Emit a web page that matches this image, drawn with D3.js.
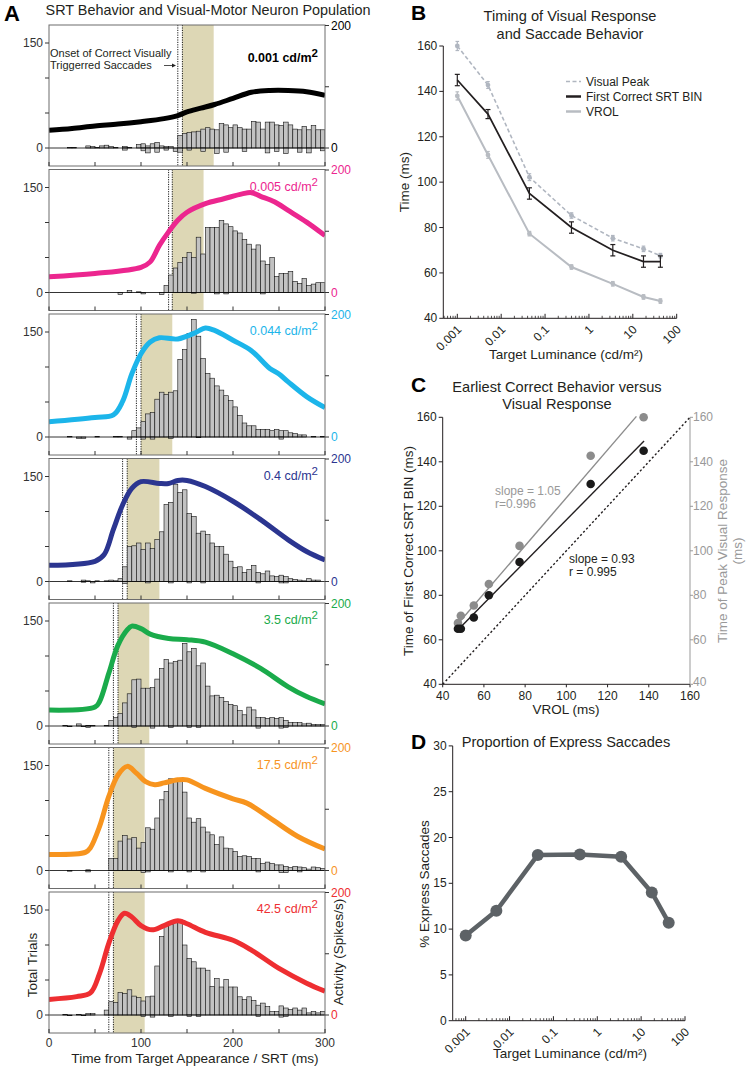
<!DOCTYPE html>
<html><head><meta charset="utf-8">
<script src="https://cdn.jsdelivr.net/npm/d3@7"></script>
<style>body{margin:0;background:#fff} svg{font-family:"Liberation Sans",Arial,Helvetica,sans-serif;background:#fff}</style>
</head><body><svg id="c" width="747" height="1069"></svg>
<script>
// ---------------- DATA ----------------
// Panel A
const lumLabels = ["0.001","0.005","0.044","0.4","3.5","17.5","42.5"];
const panelColors = ["#000000","#ec268f","#1cb5ea","#2b3590","#1aab4b","#f7941e","#ee2e31"];
const onsetStart = [140,130,95,80,70,65,65];
const onsetEnd   = [145,134,100,85,75,70,70];
const shadeEnd   = [179,168,134,120,109,104,104];
const binWidth = 5;

const corr1 = [0,0,0,0,1,1,0,0,3,2, 1,3,4,2,1,0,2,1,0,5, 6,3,6,8,3,2,2,0,18,21, 22,23,24,27,29,27,26,35,33,29, 33,29,27,27,38,37,27,37,37,33, 32,37,33,27,26,31,26,32,26,26];
const err1  = [0,0,0,0,0,0,0,0,0,0, 0,0,0,0,0,0,-3,0,0,0, -4,-7,0,-6,0,-3,0,-5,-6,0, -3,0,0,-5,0,0,-8,0,-6,0, 0,0,-5,0,0,0,0,-7,0,-5, 0,-8,0,0,-6,0,-7,0,0,-4];
const corr2 = [0,0,0,0,0,0,0,0,0,0, 0,0,0,0,0,0,0,3,0,1, 0,0,0,0,0,10,25,35,43,50, 57,50,79,55,93,93,93,103,98,94, 88,85,76,69,62,68,45,40,50,23, 27,27,30,16,13,20,10,12,14,14];
const err2  = [0,0,0,0,0,0,0,0,0,0, 0,0,0,0,0,-3,0,0,0,0, -2,0,0,0,-3,0,0,0,0,0, 0,-1,0,0,0,0,-2,0,-2,0, 0,0,0,0,0,0,-2,0,0,0, 0,0,0,0,0,0,0,0,0,0];
const corr3 = [0,0,0,0,1,0,0,0,0,0, 1,0,0,0,1,1,0,0,9,13, 22,33,35,54,64,61,64,66,111,125, 148,168,144,112,91,84,73,67,59,52, 43,31,20,16,16,11,11,11,9,11, 9,9,6,5,3,3,0,1,0,1];
const err3  = [0,0,0,0,0,0,-2,-2,0,0, 0,0,0,0,0,0,0,-3,0,0, -3,0,-3,0,0,0,-2,0,0,0, 0,0,-1,0,0,0,0,0,0,0, 0,0,0,0,0,0,0,0,0,0, -3,0,0,0,0,0,0,0,0,0];
const corr4 = [0,0,0,0,1,0,0,2,1,0, 1,0,1,2,1,4,21,50,51,55, 46,55,47,60,71,110,113,139,127,131, 97,93,69,72,67,55,50,50,39,29, 20,21,13,17,23,13,11,15,8,7, 9,7,4,3,2,1,4,2,2,0];
const err4  = [0,0,0,0,0,0,0,-1,0,-2, 0,0,0,0,0,0,-3,0,0,0, 0,-2,0,0,0,0,-2,0,0,0, -2,0,0,-2,0,0,0,0,0,0, 0,0,0,0,0,-2,0,0,0,0, -2,-2,0,0,0,0,0,0,0,0];
const corr5 = [0,0,0,1,0,0,3,0,1,1, 0,0,1,8,12,18,33,46,66,67, 54,54,55,67,82,95,90,92,94,118, 106,111,86,90,57,43,44,41,35,31, 29,22,16,27,23,12,12,11,12,11, 12,8,5,5,5,3,4,2,2,2];
const err5  = [0,0,0,0,-1,0,0,-1,-2,0, 0,0,0,0,0,0,0,0,-2,0, 0,0,-3,0,0,0,-2,0,0,0, -2,0,-2,0,0,0,0,0,0,0, 0,0,0,0,0,-3,0,0,0,0, -3,-2,0,0,0,0,0,0,0,0];
const corr6 = [0,0,0,0,0,0,0,0,1,0, 0,0,0,17,17,42,50,45,47,32, 40,61,59,75,101,113,131,127,127,112, 75,69,74,62,55,51,37,48,32,31, 27,20,21,20,17,17,10,12,10,8, 8,6,4,6,5,4,2,5,4,3];
const err6  = [0,0,0,0,-1,0,0,0,-2,0, 0,0,0,0,0,0,0,0,0,0, -3,-2,0,0,0,0,-2,0,0,0, -2,0,0,-2,0,0,0,0,0,0, 0,0,0,0,0,-2,0,0,0,0, -3,-3,0,0,-2,0,0,0,0,0];
const corr7 = [0,0,0,1,0,0,1,0,2,2, 0,0,7,19,18,32,31,36,27,25, 20,26,27,70,112,129,129,133,136,100, 81,76,67,67,64,41,52,40,51,40, 40,26,22,26,21,14,17,12,5,5, 13,10,8,10,7,10,3,5,3,5];
const err7  = [0,0,0,0,-1,0,0,-1,0,0, 0,0,0,0,0,0,0,0,0,0, -2,0,-3,0,0,0,-2,0,0,0, -2,0,-2,0,0,0,0,0,0,0, 0,0,0,0,0,-2,0,0,0,0, -3,-2,0,0,0,0,0,0,0,0];
const correctCounts = [corr1,corr2,corr3,corr4,corr5,corr6,corr7];
const errorCounts = [err1,err2,err3,err4,err5,err6,err7];

const actT1 = [0,25,50,75,100,125,140,150,165,180,200,220,240,260,280,300];
const actV1 = [29,32,36,39,43,48,53,59,65,71,81,91,94,94,92,86];
const actT2 = [0,50,100,110,120,130,140,150,170,190,210,220,230,245,260,280,300];
const actV2 = [25.7,31,41,50,77,99,118,131,145,153,161,163,157,148,134,115,93];
const actT3 = [0,50,70,80,90,100,110,120,140,160,170,180,200,220,240,250,260,280,300];
const actV3 = [25,32,36,58,103,136,155,162,160,171,178,174,158,141,112,103,90,66,48];
const actT4 = [0,50,60,70,80,90,100,120,130,140,150,170,200,230,260,280,300];
const actV4 = [26.5,33,44,85,125,152,163,160,160,165,165,155,131,101,68,49,35];
const actT5 = [0,50,55,65,75,85,90,100,110,130,150,170,200,230,260,280,300];
const actV5 = [26,31,40,86,132,157,163,159,150,143,141,137,118,94,64,48,36];
const actT6 = [0,40,45,55,65,75,85,95,105,115,125,140,150,170,200,215,240,270,300];
const actV6 = [26,30,37,72,121,156,170,159,145,140,143,148,148,134,117,110,86,56,35];
const actT7 = [0,30,45,55,65,75,82,90,100,112,125,140,150,170,200,220,250,280,300];
const actV7 = [25.5,30,36,68,117,154,166,160,146,139,146,154,149,135,122,106,76,52,39];
const actTimes = [actT1,actT2,actT3,actT4,actT5,actT6,actT7];
const actVals = [actV1,actV2,actV3,actV4,actV5,actV6,actV7];
const aXTicks = [0,50,100,150,200,250,300];
const aXLabels = [0,100,200,300];
const aLeftTicks = [0,50,100,150];
const aLeftLabels = [0,150];
const aRightTicks = [0,100,200];
const aRightLabels = [0,200];

// Panel B
const luminance = [0.001,0.005,0.044,0.4,3.5,17.5,42.5];
const visPeak = [160,142.8,102.2,85.3,75.3,70.6,67.6];
const visPeakErr = [2,1.5,1.5,1.2,1.2,1.2,1];
const srtBin = [145,130,95,80,70,65,65];
const srtErr = [2.5,2,2.5,2.5,2.5,2.5,2.5];
const vrol = [138,112,77.3,62.6,55.2,49.4,47.6];
const vrolErr = [1.8,1.5,1,1,1,1,1];
const bYTicks = [40,60,80,100,120,140,160];
const logMajors = [0.001,0.01,0.1,1,10,100];
const logLabels = ["0.001","0.01","0.1","1","10","100"];

// Panel C
const cVrol = [137.5,111.8,77.3,62.4,55.1,48.8,47.4];
const cSrt = [145,130,95,80,70,65,65];
const cPeak = [160,142.7,102.2,85.1,75.4,70.8,67.5];
const fitBlackX = [49,137.7], fitBlackY = [66,149.3];
const fitGrayX = [47,134], fitGrayY = [66.8,160.4];
const cTicks = [40,60,80,100,120,140,160];

// Panel D
const pctExpress = [9.3,12.0,18.1,18.15,17.9,14.0,10.7];
const dYTicks = [0,5,10,15,20,25,30];

// ---------------- DRAW ----------------
const svg = d3.select('#c');
const txt = (x,y,s,opt={}) => {
  const t = svg.append('text').attr('x',x).attr('y',y).text(s)
    .attr('font-size',opt.size||12).attr('fill',opt.fill||'#231f20')
    .attr('text-anchor',opt.anchor||'start');
  if(opt.weight) t.attr('font-weight',opt.weight);
  if(opt.rotate!==undefined) t.attr('transform',`rotate(${opt.rotate},${x},${y})`);
  return t;
};

// ===== Panel A =====
const xA = d3.scaleLinear().domain([0,300]).range([49,325]);
const aTop0 = 25, aStep = 144.5, aH = 141;
txt(4,21,'A',{size:22,weight:'bold',fill:'#000'});
txt(208,15,'SRT Behavior and Visual-Motor Neuron Population',{size:14.4,anchor:'middle'});

lumLabels.forEach((lab,i)=>{
  const top = aTop0 + i*aStep;
  const yL = d3.scaleLinear().domain([0,150]).range([top+123, top+18]);
  const yR = d3.scaleLinear().domain([0,200]).range([top+123, top+0.5]);
  const col = panelColors[i];
  const g = svg.append('g');
  const cid = 'clipA'+i;
  svg.append('clipPath').attr('id',cid).append('rect').attr('x',xA(0)).attr('y',top).attr('width',xA(300)-xA(0)).attr('height',aH);
  const inner = g.append('g').attr('clip-path',`url(#${cid})`);
  inner.append('rect').attr('x',xA(onsetEnd[i])).attr('y',top)
    .attr('width',xA(shadeEnd[i])-xA(onsetEnd[i])).attr('height',aH).attr('fill','#ddd7b5');
  [onsetStart[i],onsetEnd[i]].forEach(t=>{
    inner.append('line').attr('x1',xA(t)).attr('x2',xA(t)).attr('y1',top).attr('y2',top+aH)
      .attr('stroke','#000').attr('stroke-width',0.9).attr('stroke-dasharray','1.2,1.2');
  });
  const bw = xA(binWidth)-xA(0);
  correctCounts[i].forEach((c,j)=>{
    const t0 = j*binWidth;
    if(c>0) inner.append('rect').attr('x',xA(t0)).attr('width',bw).attr('y',yL(c)).attr('height',yL(0)-yL(c))
      .attr('fill','#c2c2c2').attr('stroke','#111').attr('stroke-width',0.6);
    const e = errorCounts[i][j];
    if(e<0) inner.append('rect').attr('x',xA(t0)).attr('width',bw).attr('y',yL(0)).attr('height',yL(e)-yL(0))
      .attr('fill','#c2c2c2').attr('stroke','#111').attr('stroke-width',0.6);
  });
  inner.append('line').attr('x1',xA(0)).attr('x2',xA(300)).attr('y1',yL(0)).attr('y2',yL(0))
    .attr('stroke','#000').attr('stroke-width',0.8);
  const pts = actTimes[i].map((t,k)=>[t,actVals[i][k]]);
  inner.append('path').attr('d',d3.line().x(d=>xA(d[0])).y(d=>yR(d[1])).curve(d3.curveCatmullRom)(pts))
    .attr('fill','none').attr('stroke',col).attr('stroke-width',5);
  g.append('rect').attr('x',xA(0)).attr('y',top).attr('width',xA(300)-xA(0)).attr('height',aH)
    .attr('fill','none').attr('stroke','#6d6d6d').attr('stroke-width',1);
  aXTicks.forEach(t=>{
    g.append('line').attr('x1',xA(t)).attr('x2',xA(t)).attr('y1',top+aH).attr('y2',top+aH-4)
      .attr('stroke','#333').attr('stroke-width',1);
  });
  aLeftTicks.forEach(v=>{
    g.append('line').attr('x1',xA(0)).attr('x2',xA(0)-4).attr('y1',yL(v)).attr('y2',yL(v)).attr('stroke','#333');
  });
  aLeftLabels.forEach(v=>{ txt(xA(0)-6,yL(v)+4,String(v),{size:12,anchor:'end',fill:'#333'}); });
  aRightTicks.forEach(v=>{
    g.append('line').attr('x1',xA(300)).attr('x2',xA(300)+4).attr('y1',yR(v)).attr('y2',yR(v)).attr('stroke','#333');
  });
  aRightLabels.forEach(v=>{ txt(xA(300)+6,yR(v)+4,String(v),{size:12,fill:i===0?'#000':col}); });
  const lt = svg.append('text').attr('x',318).attr('y',top+(i===0?37:21)).attr('text-anchor','end')
    .attr('font-size',12.5).attr('fill',col);
  if(i===0) lt.attr('font-weight','bold');
  lt.append('tspan').text(lab+' cd/m');
  lt.append('tspan').text('2').attr('dy',-5).attr('font-size',11.5);
  if(i===6){
    aXLabels.forEach(t=> txt(xA(t),top+aH+14,String(t),{size:12,anchor:'middle',fill:'#333'}));
    txt(195,1063,'Time from Target Appearance / SRT (ms)',{size:13.6,anchor:'middle'});
    txt(37,965,'Total Trials',{size:13.5,anchor:'middle',rotate:-90});
    txt(343,952,'Activity (Spikes/s)',{size:13.5,anchor:'middle',rotate:-90});
  }
});
txt(50,57,'Onset of Correct Visually',{size:11});
txt(50,69,'Triggerred Saccades',{size:11});
svg.append('line').attr('x1',164).attr('x2',175).attr('y1',65.5).attr('y2',65.5).attr('stroke','#222').attr('stroke-width',0.8);
svg.append('path').attr('d','M176,65.5 L172,63.5 L172,67.5 Z').attr('fill','#222');

// ===== helpers =====
function logAxis(xs, y0, xStart){
  const g = svg.append('g');
  g.append('line').attr('x1',xStart).attr('x2',xs(100)).attr('y1',y0).attr('y2',y0).attr('stroke','#231f20');
  const minors = [];
  [0.0001,0.001,0.01,0.1,1,10].forEach(b=>{ for(let m=2;m<=9;m++){ const v=b*m; if(xs(v)>=xStart && v<100) minors.push(v);} });
  minors.forEach(v=> g.append('line').attr('x1',xs(v)).attr('x2',xs(v)).attr('y1',y0).attr('y2',y0-2.5).attr('stroke','#231f20').attr('stroke-width',0.8));
  logMajors.forEach((v,k)=>{
    g.append('line').attr('x1',xs(v)).attr('x2',xs(v)).attr('y1',y0).attr('y2',y0-4.5).attr('stroke','#231f20');
    txt(xs(v)+5,y0+12,logLabels[k],{size:12,anchor:'end',rotate:-45,fill:'#231f20'});
  });
}
function leftAxis(x0, ys, ticks, y1, y2, color){
  svg.append('line').attr('x1',x0).attr('x2',x0).attr('y1',y1).attr('y2',y2).attr('stroke',color);
  ticks.forEach(v=>{
    svg.append('line').attr('x1',x0).attr('x2',x0-4).attr('y1',ys(v)).attr('y2',ys(v)).attr('stroke',color);
    txt(x0-6,ys(v)+4,String(v),{size:12,anchor:'end',fill:color});
  });
}

// ===== Panel B =====
const xB = d3.scaleLog().domain([0.001,100]).range([457.3,676.7]);
const yB = d3.scaleLinear().domain([40,160]).range([318.3,46]);
txt(411,19.5,'B',{size:21,weight:'bold',fill:'#000'});
txt(570,21,'Timing of Visual Response',{size:14.6,anchor:'middle'});
txt(570,38.5,'and Saccade Behavior',{size:14.6,anchor:'middle'});
leftAxis(443.3, yB, bYTicks, yB(40), yB(160), '#231f20');
logAxis(xB, yB(40), 443.3);
txt(409,182,'Time (ms)',{size:13.5,anchor:'middle',rotate:-90});
txt(566,359,'Target Luminance (cd/m²)',{size:13.5,anchor:'middle'});
const lineB = d3.line().x((d,k)=>xB(luminance[k])).y(d=>yB(d));
svg.append('path').attr('d',lineB(vrol)).attr('fill','none').attr('stroke','#b8bcc2').attr('stroke-width',2);
svg.append('path').attr('d',lineB(visPeak)).attr('fill','none').attr('stroke','#b0b6c0').attr('stroke-width',1.6).attr('stroke-dasharray','4,2.5');
svg.append('path').attr('d',lineB(srtBin)).attr('fill','none').attr('stroke','#231f20').attr('stroke-width',1.7);
function errBars(vals, errs, color, cap, w){
  vals.forEach((v,k)=>{
    const x = xB(luminance[k]);
    svg.append('line').attr('x1',x).attr('x2',x).attr('y1',yB(v-errs[k])).attr('y2',yB(v+errs[k])).attr('stroke',color).attr('stroke-width',w);
    [v-errs[k],v+errs[k]].forEach(e=> svg.append('line').attr('x1',x-cap).attr('x2',x+cap).attr('y1',yB(e)).attr('y2',yB(e)).attr('stroke',color).attr('stroke-width',w));
  });
}
errBars(vrol, vrolErr, '#b8bcc2', 1.8, 1.2);
errBars(visPeak, visPeakErr, '#b0b6c0', 1.8, 1.2);
vrol.forEach((v,k)=> svg.append('circle').attr('cx',xB(luminance[k])).attr('cy',yB(v)).attr('r',2.4).attr('fill','#b8bcc2'));
visPeak.forEach((v,k)=> svg.append('circle').attr('cx',xB(luminance[k])).attr('cy',yB(v)).attr('r',2.4).attr('fill','#b0b6c0'));
errBars(srtBin, srtErr, '#231f20', 2.5, 1.2);
const legB = [{n:'Visual Peak',c:'#b0b6c0',d:'4,2.5',w:1.6},{n:'First Correct SRT BIN',c:'#231f20',d:null,w:2.5},{n:'VROL',c:'#b8bcc2',d:null,w:2.5}];
legB.forEach((l,k)=>{
  const y = 81.5 + k*15;
  const ln = svg.append('line').attr('x1',566).attr('x2',581).attr('y1',y).attr('y2',y).attr('stroke',l.c).attr('stroke-width',l.w);
  if(l.d) ln.attr('stroke-dasharray',l.d);
  txt(586,y+4.5,l.n,{size:12});
});

// ===== Panel C =====
const xC = d3.scaleLinear().domain([40,160]).range([442.7,690]);
const yC = d3.scaleLinear().domain([40,160]).range([684.3,417.3]);
txt(411,392,'C',{size:21,weight:'bold',fill:'#000'});
txt(557,392,'Earliest Correct Behavior versus',{size:14.6,anchor:'middle'});
txt(557,409,'Visual Response',{size:14.6,anchor:'middle'});
leftAxis(442.7, yC, cTicks, yC(40), yC(160), '#231f20');
svg.append('line').attr('x1',xC(40)).attr('x2',xC(160)).attr('y1',yC(40)).attr('y2',yC(40)).attr('stroke','#231f20');
cTicks.forEach(v=>{
  svg.append('line').attr('x1',xC(v)).attr('x2',xC(v)).attr('y1',yC(40)).attr('y2',yC(40)+3).attr('stroke','#231f20');
  txt(xC(v),700,String(v),{size:12,anchor:'middle'});
});
svg.append('line').attr('x1',xC(160)).attr('x2',xC(160)).attr('y1',yC(40)).attr('y2',yC(160)).attr('stroke','#999');
cTicks.forEach(v=>{
  svg.append('line').attr('x1',xC(160)).attr('x2',xC(160)+3).attr('y1',yC(v)).attr('y2',yC(v)).attr('stroke','#999');
  txt(xC(160)+3,yC(v)+(v===40?2:4),String(v),{size:12,fill:'#999'});
});
txt(566,714,'VROL (ms)',{size:13.5,anchor:'middle'});
txt(413,551,'Time of First Correct SRT BIN (ms)',{size:13.5,anchor:'middle',rotate:-90});
txt(727,551,'Time of Peak Visual Response',{size:13.5,anchor:'middle',rotate:-90,fill:'#999'});
txt(742,551,'(ms)',{size:13.5,anchor:'middle',rotate:-90,fill:'#999'});
svg.append('line').attr('x1',xC(40)).attr('y1',yC(40)).attr('x2',xC(160)).attr('y2',yC(160))
  .attr('stroke','#231f20').attr('stroke-width',1.4).attr('stroke-dasharray','2.2,2.2');
svg.append('line').attr('x1',xC(fitGrayX[0])).attr('y1',yC(fitGrayY[0])).attr('x2',xC(fitGrayX[1])).attr('y2',yC(fitGrayY[1]))
  .attr('stroke','#8c8c8c').attr('stroke-width',1.4);
svg.append('line').attr('x1',xC(fitBlackX[0])).attr('y1',yC(fitBlackY[0])).attr('x2',xC(fitBlackX[1])).attr('y2',yC(fitBlackY[1]))
  .attr('stroke','#231f20').attr('stroke-width',1.4);
cPeak.forEach((v,k)=> svg.append('circle').attr('cx',xC(cVrol[k])).attr('cy',yC(v)).attr('r',4.3).attr('fill','#8c8c8c'));
cSrt.forEach((v,k)=> svg.append('circle').attr('cx',xC(cVrol[k])).attr('cy',yC(v)).attr('r',4.3).attr('fill','#1a1a1a'));
txt(495,495,'slope = 1.05',{size:12,fill:'#999'});
txt(495,508,'r=0.996',{size:12,fill:'#999'});
txt(569,563,'slope = 0.93',{size:12});
txt(569,575.5,'r = 0.995',{size:12});

// ===== Panel D =====
const xD = d3.scaleLog().domain([0.001,100]).range([465.7,685]);
const yD = d3.scaleLinear().domain([0,30]).range([1020.7,745.9]);
txt(411,749,'D',{size:21,weight:'bold',fill:'#000'});
txt(566,747,'Proportion of Express Saccades',{size:14.6,anchor:'middle'});
leftAxis(452.7, yD, dYTicks, yD(0), yD(30), '#231f20');
logAxis(xD, yD(0), 452.7);
txt(429,884,'% Express Saccades',{size:13.5,anchor:'middle',rotate:-90});
txt(570,1058,'Target Luminance (cd/m²)',{size:13.5,anchor:'middle'});
svg.append('path').attr('d',d3.line().x((d,k)=>xD(luminance[k])).y(d=>yD(d))(pctExpress))
  .attr('fill','none').attr('stroke','#5d6266').attr('stroke-width',4.5).attr('stroke-linejoin','round');
pctExpress.forEach((v,k)=> svg.append('circle').attr('cx',xD(luminance[k])).attr('cy',yD(v)).attr('r',6).attr('fill','#5d6266'));
</script></body></html>
